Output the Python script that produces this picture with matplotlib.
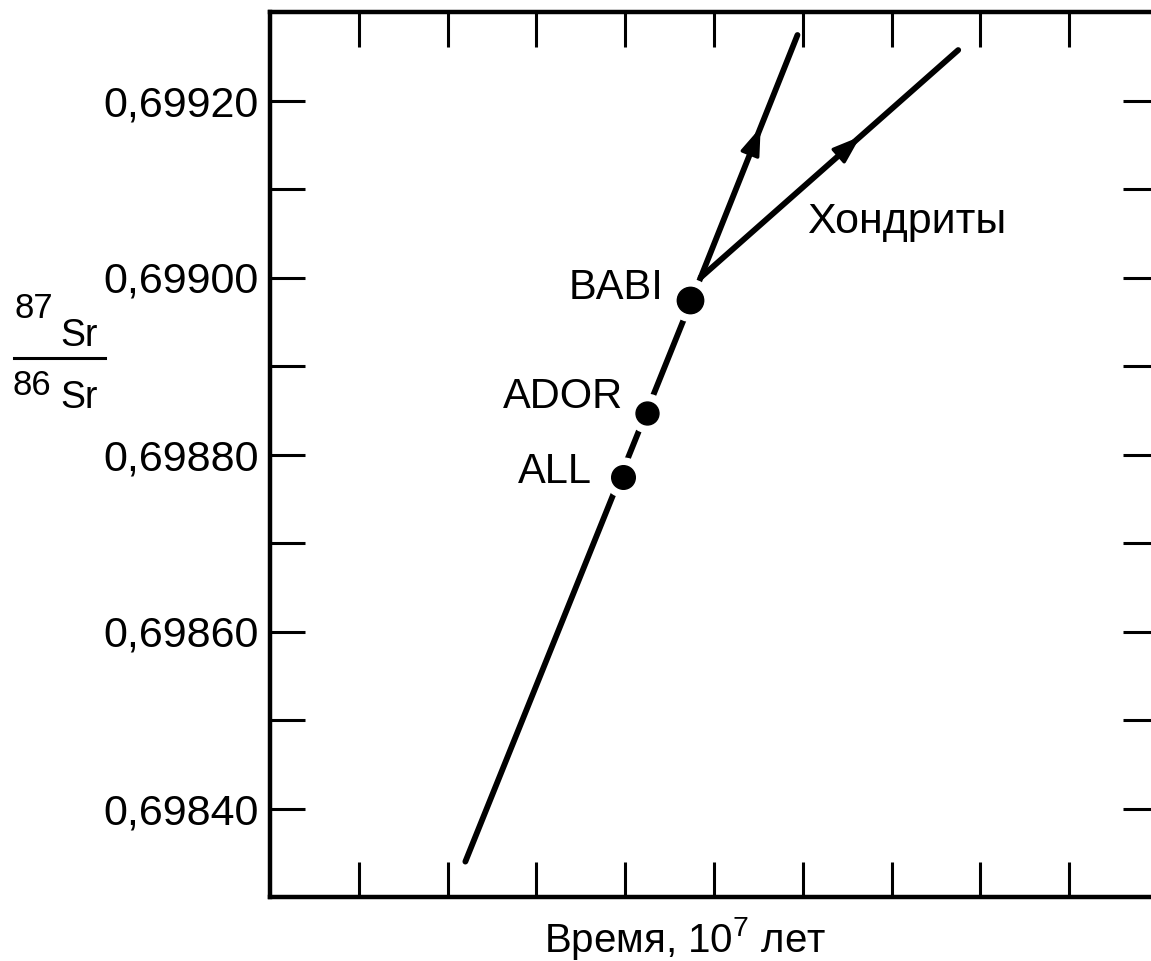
import matplotlib

matplotlib.use("Agg")
import matplotlib.pyplot as plt
from matplotlib.lines import Line2D
from matplotlib.ticker import FixedLocator, FuncFormatter

plt.rcParams["font.family"] = ["Liberation Sans", "DejaVu Sans"]
plt.rcParams["mathtext.fontset"] = "custom"
plt.rcParams["mathtext.rm"] = "Liberation Sans"
plt.rcParams["mathtext.it"] = "Liberation Sans"

# Sr growth line, time in units of 10^7 yr
growth_t = [2.20, 4.85]
growth_sr = [0.69834, 0.69900]

# meteorite points on the growth line
samples = ["BABI", "ADOR", "ALL"]
sample_t = [4.735, 4.24, 3.97]
sample_sr = [0.698975, 0.698847, 0.698775]
sample_size = [19, 16.5, 17]

# chondrite evolution branches from the branch point
branch_t0, branch_sr0 = 4.85, 0.69900
branch_t = [5.94, 7.75]
branch_sr = [0.699274, 0.699257]

x_ticks = list(range(1, 10))
y_ticks = [0.6984, 0.6985, 0.6986, 0.6987, 0.6988, 0.6989, 0.6990, 0.6991, 0.6992]

W, H = 1151, 961
fig = plt.figure(figsize=(W / 100, H / 100), dpi=100)
ax = fig.add_axes([270 / W, 1 - 897 / H, 888 / W, 885 / H])
ax.set_xlim(0, 10)
ax.set_ylim(0.6983, 0.6993)

for s in ax.spines.values():
    s.set_linewidth(3.2)

ax.xaxis.set_major_locator(FixedLocator(x_ticks))
ax.yaxis.set_major_locator(FixedLocator(y_ticks))
ax.xaxis.set_major_formatter(FuncFormatter(lambda v, p: ""))


def sr_label(v, pos):
    # label every second tick, decimal comma
    if round(v * 10000) % 2:
        return ""
    return f"{v:.5f}".replace(".", ",")


ax.yaxis.set_major_formatter(FuncFormatter(sr_label))
ax.tick_params(direction="in", length=25, width=2.2, top=True, right=True,
               labelsize=31, pad=8, colors="black")

# growth line and the points on it (white rings break the line)
ax.plot(growth_t, growth_sr, color="black", lw=4.2, solid_capstyle="round", zorder=2)
for t, sr, ms in zip(sample_t, sample_sr, sample_size):
    ax.plot(t, sr, "o", ms=ms + 11, mfc="white", mec="white", zorder=3)
    ax.plot(t, sr, "o", ms=ms, mfc="black", mec="black", zorder=4)

label_pos = {"BABI": (4.43, 0.698988), "ADOR": (3.98, 0.698865), "ALL": (3.63, 0.698780)}
for name in samples:
    lx, ly = label_pos[name]
    ax.text(lx, ly, name, ha="right", va="center", fontsize=30)

# branches with mid-line arrowheads
for t1, sr1 in zip(branch_t, branch_sr):
    ax.plot([branch_t0, t1], [branch_sr0, sr1], color="black", lw=4.2,
            solid_capstyle="round", zorder=2)
    f0, f1 = 0.52, 0.62
    ax.annotate("", xy=(branch_t0 + f1 * (t1 - branch_t0), branch_sr0 + f1 * (sr1 - branch_sr0)),
                xytext=(branch_t0 + f0 * (t1 - branch_t0), branch_sr0 + f0 * (sr1 - branch_sr0)),
                arrowprops=dict(arrowstyle="-|>,head_length=1.0,head_width=0.35",
                                mutation_scale=17, color="black", lw=2.5,
                                shrinkA=0, shrinkB=0),
                zorder=3)

ax.text(6.05, 0.699063, "Хондриты", ha="left", va="center", fontsize=31)

ax.set_xlabel("Время, 10$^{7}$ лет", fontsize=29)
ax.xaxis.set_label_coords((685 - 270) / 888, -0.02)

# 87Sr/86Sr stacked ratio label
fig.text(14 / W, 1 - 318 / H, "87", fontsize=25, va="baseline", ha="left")
fig.text(60 / W, 1 - 346 / H, "Sr", fontsize=27, va="baseline", ha="left")
fig.add_artist(Line2D([14 / W, 105 / W], [1 - 358 / H, 1 - 358 / H], color="black", lw=2.2))
fig.text(13 / W, 1 - 395 / H, "86", fontsize=25, va="baseline", ha="left")
fig.text(60 / W, 1 - 408 / H, "Sr", fontsize=27, va="baseline", ha="left")

fig.savefig("out.png", dpi=100, facecolor="white")
